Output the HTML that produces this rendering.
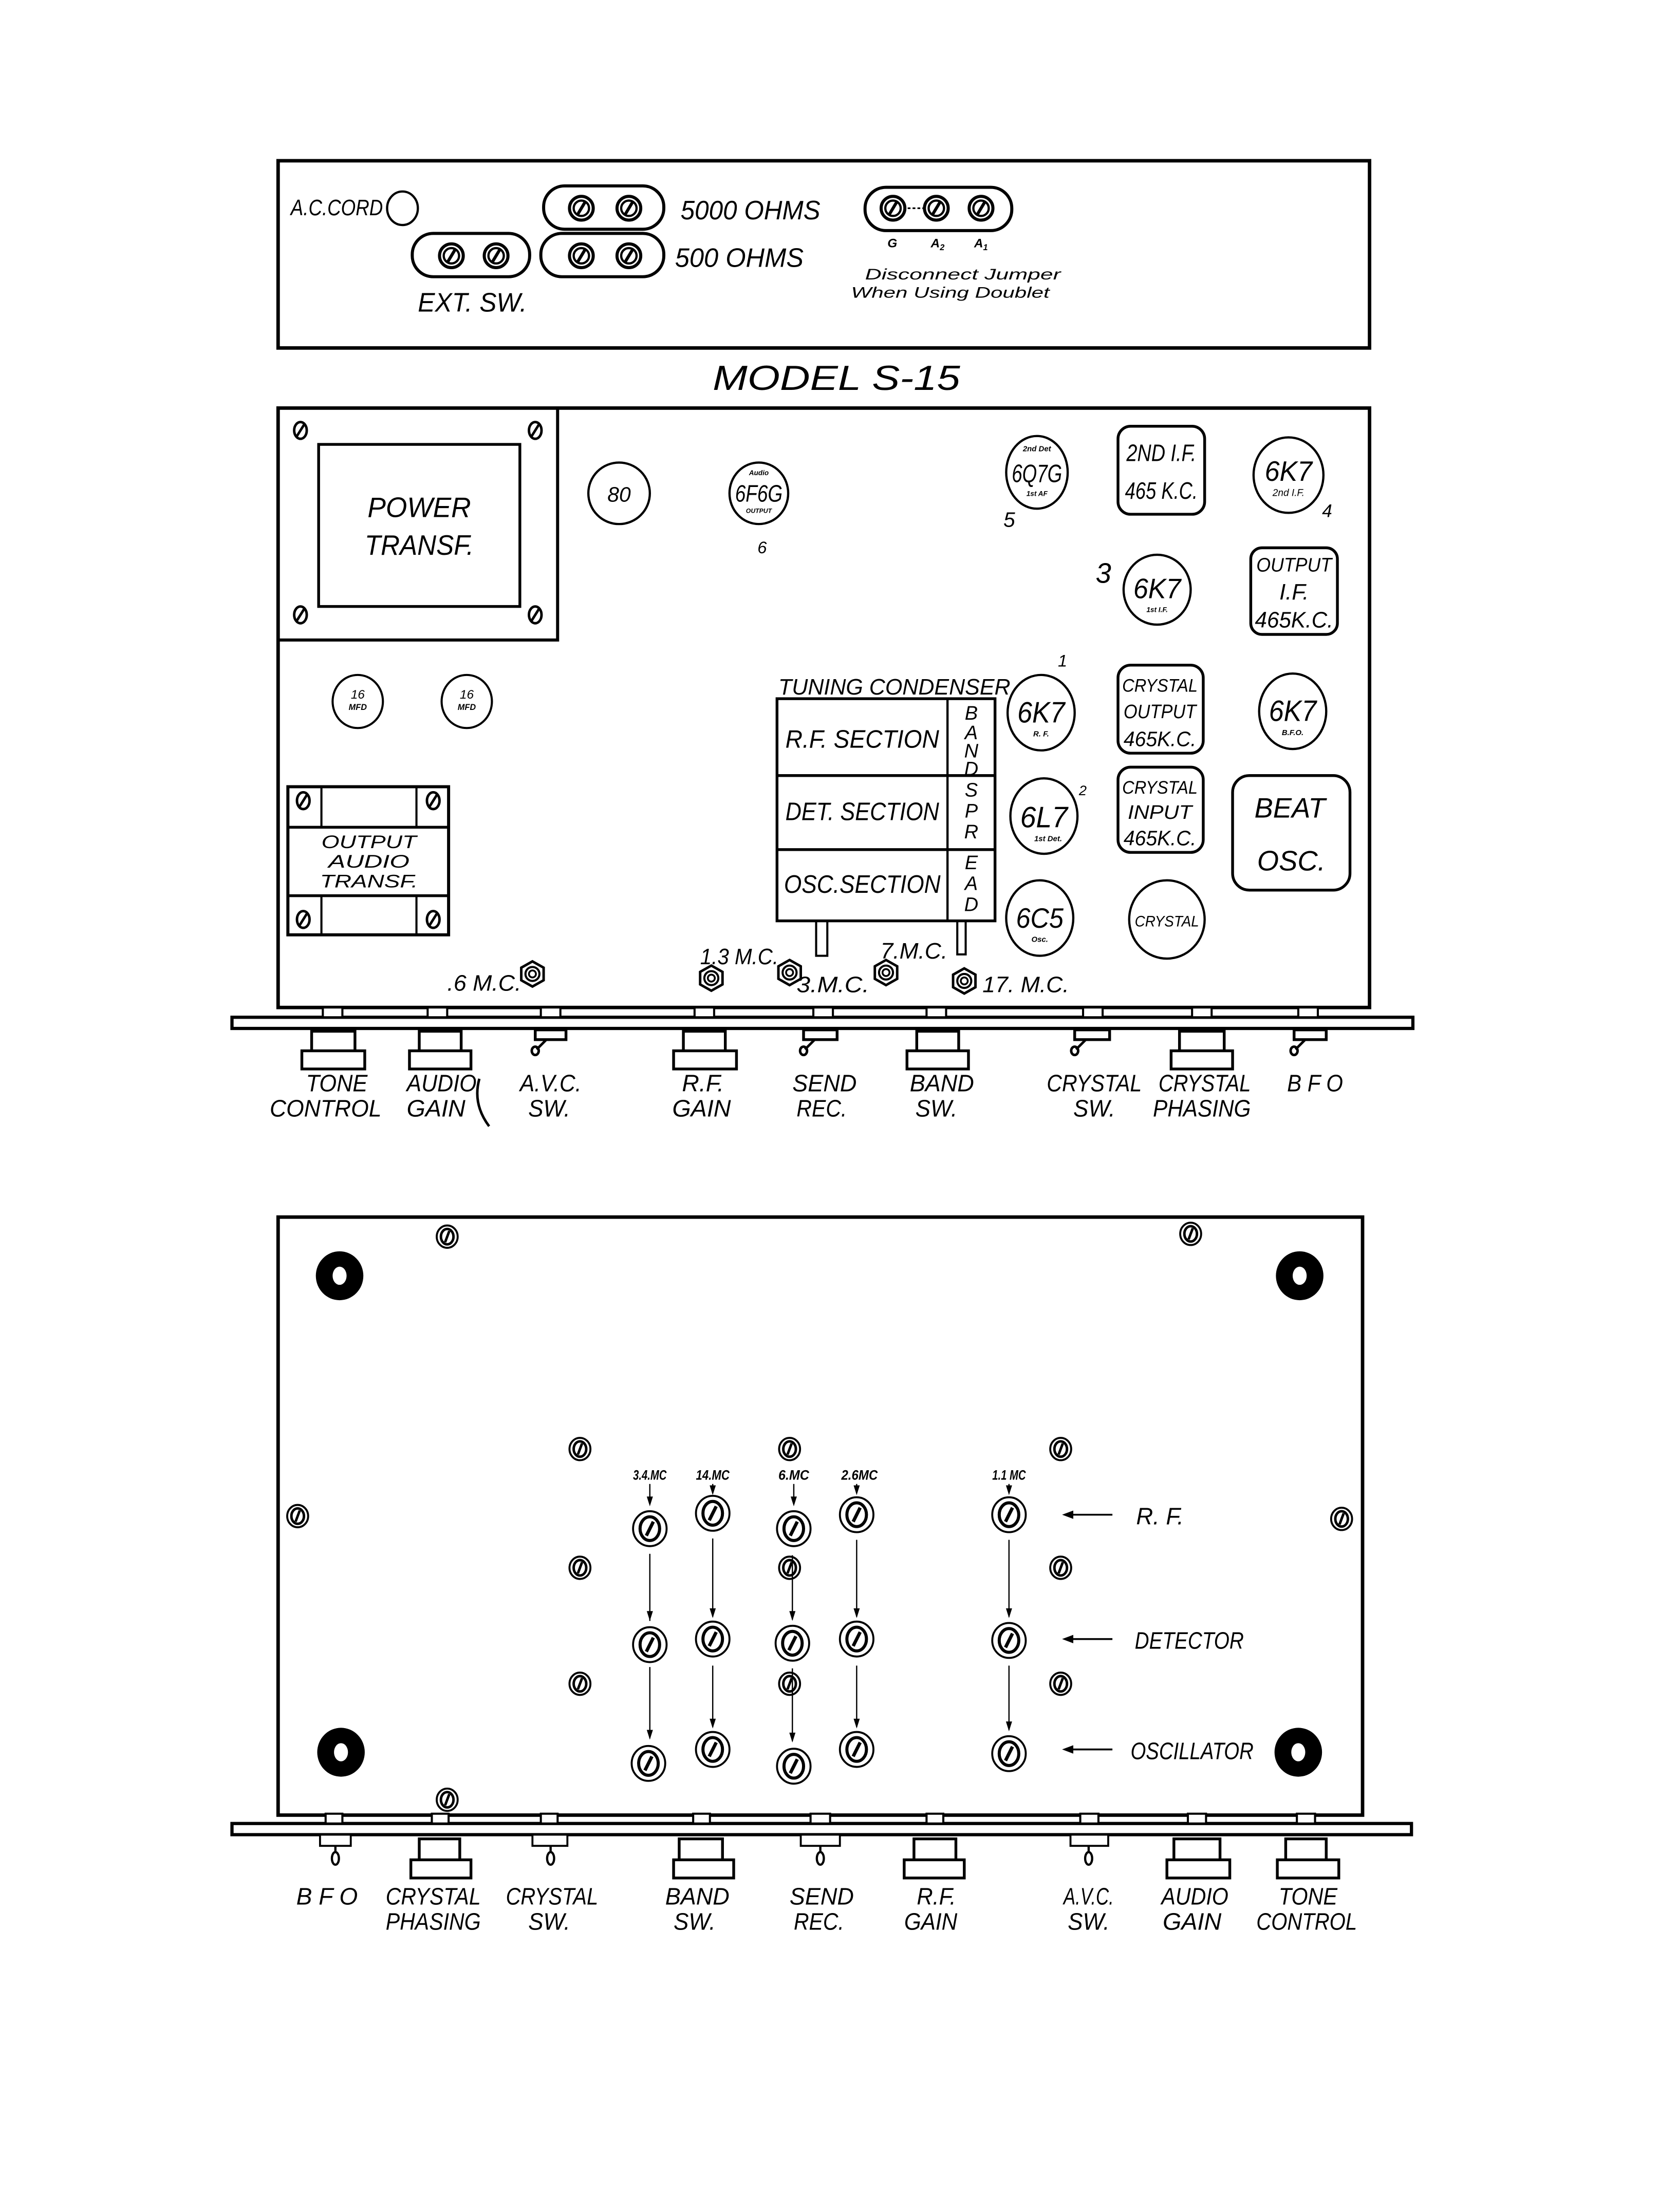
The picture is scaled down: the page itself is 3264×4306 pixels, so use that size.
<!DOCTYPE html>
<html><head><meta charset="utf-8"><style>
html,body{margin:0;padding:0;background:#fff}
svg{display:block}
text{font-family:"Liberation Sans",sans-serif;font-style:italic;fill:#000}
</style></head><body>
<svg width="3264" height="4306" viewBox="0 0 1200 1583" xmlns="http://www.w3.org/2000/svg">
<defs>
<g id="bs"><circle r="8.5" fill="#fff" stroke="#000" stroke-width="2.2"/><circle r="5.5" fill="none" stroke="#000" stroke-width="1.6"/><line x1="-3" y1="5" x2="3" y2="-5" stroke="#000" stroke-width="2.2"/></g>
<g id="ts"><ellipse rx="4.5" ry="6" fill="#fff" stroke="#000" stroke-width="1.8"/><line x1="-2.5" y1="4" x2="2.5" y2="-4" stroke="#000" stroke-width="1.8"/></g>
<g id="tr"><ellipse rx="12" ry="12.5" fill="#fff" stroke="#000" stroke-width="1.4"/><ellipse rx="7" ry="8.5" fill="none" stroke="#000" stroke-width="2.2"/><line x1="-2.5" y1="5" x2="2.5" y2="-5" stroke="#000" stroke-width="2.4"/></g>
<g id="sm"><ellipse rx="7.5" ry="8" fill="#fff" stroke="#000" stroke-width="1.4"/><ellipse rx="4.5" ry="5.5" fill="none" stroke="#000" stroke-width="1.8"/><line x1="-1.5" y1="4" x2="1.5" y2="-4" stroke="#000" stroke-width="1.8"/></g>
<g id="hx"><polygon points="0,-9 8,-4.5 8,4.5 0,9 -8,4.5 -8,-4.5" fill="#fff" stroke="#000" stroke-width="1.8"/><circle r="5" fill="none" stroke="#000" stroke-width="1.5"/><circle r="2.5" fill="none" stroke="#000" stroke-width="1.3"/></g>
<g id="bh"><ellipse rx="17" ry="17.5" fill="#000"/><ellipse rx="5" ry="6.5" fill="#fff"/></g>
<g id="arr"><polygon points="-2.2,-7 2.2,-7 0,0" fill="#000"/></g>
</defs>

<!-- TOP REAR PANEL -->
<rect x="199" y="115" width="781" height="134" fill="none" stroke="#000" stroke-width="2.5"/>
<text x="208" y="154" font-size="16" textLength="66" lengthAdjust="spacingAndGlyphs">A.C.CORD</text>
<ellipse cx="288" cy="149" rx="11" ry="12" fill="none" stroke="#000" stroke-width="1.6"/>
<rect x="389" y="133" width="86" height="31" rx="15" fill="none" stroke="#000" stroke-width="2.2"/>
<rect x="295" y="167" width="84" height="31" rx="15" fill="none" stroke="#000" stroke-width="2.2"/>
<rect x="387" y="167" width="88" height="31" rx="15" fill="none" stroke="#000" stroke-width="2.2"/>
<use href="#bs" x="416" y="149"/><use href="#bs" x="450" y="149"/>
<use href="#bs" x="323" y="183"/><use href="#bs" x="355" y="183"/>
<use href="#bs" x="416" y="183"/><use href="#bs" x="450" y="183"/>
<text x="487" y="157" font-size="19" textLength="100" lengthAdjust="spacingAndGlyphs">5000 OHMS</text>
<text x="483" y="191" font-size="19" textLength="92" lengthAdjust="spacingAndGlyphs">500 OHMS</text>
<rect x="619" y="134" width="105" height="31" rx="15" fill="none" stroke="#000" stroke-width="2.2"/>
<line x1="639" y1="149" x2="670" y2="149" stroke="#000" stroke-width="1.2" stroke-dasharray="2,1.5"/>
<use href="#bs" x="639" y="149"/><use href="#bs" x="670" y="149"/><use href="#bs" x="702" y="149"/>
<text x="635" y="177" font-size="9" font-weight="bold">G</text>
<text x="666" y="177" font-size="9" font-weight="bold">A<tspan font-size="6" dy="2">2</tspan></text>
<text x="697" y="177" font-size="9" font-weight="bold">A<tspan font-size="6" dy="2">1</tspan></text>
<text x="619" y="200" font-size="11" textLength="140" lengthAdjust="spacingAndGlyphs">Disconnect Jumper</text>
<text x="609" y="213" font-size="11" textLength="142" lengthAdjust="spacingAndGlyphs">When Using Doublet</text>
<text x="299" y="223" font-size="19" textLength="78" lengthAdjust="spacingAndGlyphs">EXT. SW.</text>
<text x="510" y="279" font-size="25" textLength="177" lengthAdjust="spacingAndGlyphs">MODEL S-15</text>

<!-- CHASSIS TOP VIEW -->
<rect x="199" y="292" width="781" height="429" fill="none" stroke="#000" stroke-width="2.5"/>
<path d="M199 458 H399 V292" fill="none" stroke="#000" stroke-width="2.2"/>
<rect x="228" y="318" width="144" height="116" fill="none" stroke="#000" stroke-width="2"/>
<use href="#ts" x="215" y="308"/><use href="#ts" x="383" y="308"/><use href="#ts" x="215" y="440"/><use href="#ts" x="383" y="440"/>
<text x="300" y="370" font-size="20" text-anchor="middle" textLength="74" lengthAdjust="spacingAndGlyphs">POWER</text>
<text x="300" y="397" font-size="20" text-anchor="middle" textLength="78" lengthAdjust="spacingAndGlyphs">TRANSF.</text>

<ellipse cx="443" cy="353" rx="22" ry="22" fill="none" stroke="#000" stroke-width="1.6"/>
<text x="443" y="359" font-size="15" text-anchor="middle">80</text>
<ellipse cx="543" cy="353" rx="21" ry="22" fill="none" stroke="#000" stroke-width="1.6"/>
<text x="543" y="340" font-size="5" text-anchor="middle" font-weight="bold">Audio</text>
<text x="543" y="359" font-size="17" text-anchor="middle" textLength="34" lengthAdjust="spacingAndGlyphs">6F6G</text>
<text x="543" y="367" font-size="4.5" text-anchor="middle" font-weight="bold">OUTPUT</text>
<text x="542" y="396" font-size="12">6</text>
<ellipse cx="742" cy="338" rx="22" ry="26" fill="none" stroke="#000" stroke-width="1.6"/>
<text x="742" y="323" font-size="5.5" text-anchor="middle" font-weight="bold">2nd Det</text>
<text x="742" y="345" font-size="18" text-anchor="middle" textLength="36" lengthAdjust="spacingAndGlyphs">6Q7G</text>
<text x="742" y="355" font-size="5" text-anchor="middle" font-weight="bold">1st AF</text>
<text x="718" y="377" font-size="15" font-style="normal">5</text>
<rect x="800" y="305" width="62" height="63" rx="9" fill="none" stroke="#000" stroke-width="2"/>
<text x="831" y="330" font-size="17" text-anchor="middle" textLength="50" lengthAdjust="spacingAndGlyphs">2ND I.F.</text>
<text x="831" y="357" font-size="17" text-anchor="middle" textLength="52" lengthAdjust="spacingAndGlyphs">465 K.C.</text>
<ellipse cx="922" cy="340" rx="25" ry="27" fill="none" stroke="#000" stroke-width="1.6"/>
<text x="922" y="344" font-size="20" text-anchor="middle" textLength="34" lengthAdjust="spacingAndGlyphs">6K7</text>
<text x="922" y="355" font-size="7" text-anchor="middle">2nd I.F.</text>
<text x="946" y="370" font-size="13">4</text>
<text x="784" y="417" font-size="20" font-style="normal">3</text>
<ellipse cx="828" cy="422" rx="24" ry="25" fill="none" stroke="#000" stroke-width="1.6"/>
<text x="828" y="428" font-size="20" text-anchor="middle" textLength="34" lengthAdjust="spacingAndGlyphs">6K7</text>
<text x="828" y="438" font-size="5" text-anchor="middle" font-weight="bold">1st I.F.</text>
<rect x="895" y="392" width="62" height="62" rx="8" fill="none" stroke="#000" stroke-width="2"/>
<text x="926" y="409" font-size="14" text-anchor="middle" textLength="54" lengthAdjust="spacingAndGlyphs">OUTPUT</text>
<text x="926" y="429" font-size="16" text-anchor="middle">I.F.</text>
<text x="926" y="449" font-size="16" text-anchor="middle" textLength="56" lengthAdjust="spacingAndGlyphs">465K.C.</text>

<ellipse cx="256" cy="502" rx="18" ry="19" fill="none" stroke="#000" stroke-width="1.5"/>
<text x="256" y="500" font-size="9" text-anchor="middle">16</text><text x="256" y="508" font-size="6" text-anchor="middle" font-weight="bold">MFD</text>
<ellipse cx="334" cy="502" rx="18" ry="19" fill="none" stroke="#000" stroke-width="1.5"/>
<text x="334" y="500" font-size="9" text-anchor="middle">16</text><text x="334" y="508" font-size="6" text-anchor="middle" font-weight="bold">MFD</text>

<rect x="206" y="563" width="115" height="106" fill="none" stroke="#000" stroke-width="2.2"/>
<line x1="206" y1="592" x2="321" y2="592" stroke="#000" stroke-width="2"/>
<line x1="206" y1="641" x2="321" y2="641" stroke="#000" stroke-width="2"/>
<line x1="230" y1="563" x2="230" y2="592" stroke="#000" stroke-width="1.5"/><line x1="298" y1="563" x2="298" y2="592" stroke="#000" stroke-width="1.5"/>
<line x1="230" y1="641" x2="230" y2="669" stroke="#000" stroke-width="1.5"/><line x1="298" y1="641" x2="298" y2="669" stroke="#000" stroke-width="1.5"/>
<use href="#ts" x="217" y="573"/><use href="#ts" x="310" y="573"/><use href="#ts" x="217" y="658"/><use href="#ts" x="310" y="658"/>
<text x="264" y="607" font-size="13" text-anchor="middle" textLength="68" lengthAdjust="spacingAndGlyphs">OUTPUT</text>
<text x="264" y="621" font-size="13" text-anchor="middle" textLength="58" lengthAdjust="spacingAndGlyphs">AUDIO</text>
<text x="264" y="635" font-size="13" text-anchor="middle" textLength="70" lengthAdjust="spacingAndGlyphs">TRANSF.</text>

<text x="557" y="497" font-size="16" textLength="166" lengthAdjust="spacingAndGlyphs">TUNING CONDENSER</text>
<rect x="556" y="500" width="156" height="159" fill="none" stroke="#000" stroke-width="2"/>
<line x1="556" y1="555" x2="712" y2="555" stroke="#000" stroke-width="2"/>
<line x1="556" y1="608" x2="712" y2="608" stroke="#000" stroke-width="2"/>
<line x1="678" y1="500" x2="678" y2="659" stroke="#000" stroke-width="1.6"/>
<text x="617" y="535" font-size="18" text-anchor="middle" textLength="110" lengthAdjust="spacingAndGlyphs">R.F. SECTION</text>
<text x="617" y="587" font-size="18" text-anchor="middle" textLength="110" lengthAdjust="spacingAndGlyphs">DET. SECTION</text>
<text x="617" y="639" font-size="18" text-anchor="middle" textLength="112" lengthAdjust="spacingAndGlyphs">OSC.SECTION</text>
<g font-size="14" text-anchor="middle">
<text x="695" y="515">B</text><text x="695" y="529">A</text><text x="695" y="542">N</text><text x="695" y="555">D</text>
<text x="695" y="570">S</text><text x="695" y="585">P</text><text x="695" y="600">R</text>
<text x="695" y="622">E</text><text x="695" y="637">A</text><text x="695" y="652">D</text></g>
<rect x="584" y="659" width="8" height="25" fill="none" stroke="#000" stroke-width="1.5"/>
<rect x="685" y="659" width="6" height="24" fill="none" stroke="#000" stroke-width="1.5"/>

<text x="757" y="477" font-size="12">1</text>
<ellipse cx="745" cy="510" rx="24" ry="27" fill="none" stroke="#000" stroke-width="1.6"/>
<text x="745" y="517" font-size="21" text-anchor="middle" textLength="34" lengthAdjust="spacingAndGlyphs">6K7</text>
<text x="745" y="527" font-size="5.5" text-anchor="middle" font-weight="bold">R. F.</text>
<text x="772" y="569" font-size="10">2</text>
<ellipse cx="747" cy="584" rx="24" ry="27" fill="none" stroke="#000" stroke-width="1.6"/>
<text x="747" y="592" font-size="21" text-anchor="middle" textLength="34" lengthAdjust="spacingAndGlyphs">6L7</text>
<text x="750" y="602" font-size="5.5" text-anchor="middle" font-weight="bold">1st Det.</text>
<ellipse cx="744" cy="657" rx="24" ry="27" fill="none" stroke="#000" stroke-width="1.6"/>
<text x="744" y="664" font-size="20" text-anchor="middle" textLength="34" lengthAdjust="spacingAndGlyphs">6C5</text>
<text x="744" y="674" font-size="5.5" text-anchor="middle" font-weight="bold">Osc.</text>
<rect x="800" y="476" width="61" height="63" rx="9" fill="none" stroke="#000" stroke-width="2"/>
<text x="830" y="495" font-size="13" text-anchor="middle" textLength="54" lengthAdjust="spacingAndGlyphs">CRYSTAL</text>
<text x="830" y="514" font-size="14" text-anchor="middle" textLength="52" lengthAdjust="spacingAndGlyphs">OUTPUT</text>
<text x="830" y="534" font-size="15" text-anchor="middle" textLength="52" lengthAdjust="spacingAndGlyphs">465K.C.</text>
<rect x="800" y="549" width="61" height="61" rx="9" fill="none" stroke="#000" stroke-width="2"/>
<text x="830" y="568" font-size="13" text-anchor="middle" textLength="54" lengthAdjust="spacingAndGlyphs">CRYSTAL</text>
<text x="830" y="586" font-size="14" text-anchor="middle" textLength="46" lengthAdjust="spacingAndGlyphs">INPUT</text>
<text x="830" y="605" font-size="15" text-anchor="middle" textLength="52" lengthAdjust="spacingAndGlyphs">465K.C.</text>
<ellipse cx="925" cy="509" rx="24" ry="27" fill="none" stroke="#000" stroke-width="1.6"/>
<text x="925" y="516" font-size="21" text-anchor="middle" textLength="34" lengthAdjust="spacingAndGlyphs">6K7</text>
<text x="925" y="526" font-size="5.5" text-anchor="middle" font-weight="bold">B.F.O.</text>
<rect x="882" y="555" width="84" height="82" rx="12" fill="none" stroke="#000" stroke-width="2"/>
<text x="923" y="585" font-size="20" text-anchor="middle">BEAT</text>
<text x="924" y="623" font-size="20" text-anchor="middle">OSC.</text>
<ellipse cx="835" cy="658" rx="27" ry="28" fill="none" stroke="#000" stroke-width="1.6"/>
<text x="835" y="663" font-size="11" text-anchor="middle" textLength="46" lengthAdjust="spacingAndGlyphs">CRYSTAL</text>

<use href="#hx" x="381" y="697"/><text x="320" y="709" font-size="16" textLength="53" lengthAdjust="spacingAndGlyphs">.6 M.C.</text>
<use href="#hx" x="509" y="700"/><text x="501" y="690" font-size="16" textLength="56" lengthAdjust="spacingAndGlyphs">1.3 M.C.</text>
<use href="#hx" x="565" y="696"/><text x="570" y="710" font-size="16" textLength="52" lengthAdjust="spacingAndGlyphs">3.M.C.</text>
<use href="#hx" x="634" y="696"/><text x="630" y="686" font-size="16" textLength="48" lengthAdjust="spacingAndGlyphs">7.M.C.</text>
<use href="#hx" x="690" y="702"/><text x="703" y="710" font-size="16" textLength="62" lengthAdjust="spacingAndGlyphs">17. M.C.</text>

<!-- front panel 1 -->
<rect x="166" y="728" width="845" height="8" fill="#fff" stroke="#000" stroke-width="2.3"/>
<g fill="#fff" stroke="#000" stroke-width="1.5">
<rect x="231" y="721" width="14" height="7"/><rect x="306" y="721" width="14" height="7"/><rect x="387" y="721" width="14" height="7"/><rect x="497" y="721" width="14" height="7"/><rect x="582" y="721" width="14" height="7"/><rect x="663" y="721" width="14" height="7"/><rect x="775" y="721" width="14" height="7"/><rect x="853" y="721" width="14" height="7"/><rect x="929" y="721" width="14" height="7"/>
</g>
<g fill="#fff" stroke="#000" stroke-width="2">
<rect x="223" y="738" width="31" height="15"/><rect x="216" y="752" width="45" height="13"/>
<rect x="300" y="738" width="30" height="15"/><rect x="293" y="752" width="44" height="13"/>
<rect x="489" y="738" width="30" height="15"/><rect x="482" y="752" width="45" height="13"/>
<rect x="656" y="738" width="30" height="15"/><rect x="649" y="752" width="44" height="13"/>
<rect x="844" y="738" width="32" height="15"/><rect x="838" y="752" width="44" height="13"/>
<rect x="383" y="737" width="22" height="7"/><rect x="575" y="737" width="24" height="7"/><rect x="769" y="737" width="25" height="7"/><rect x="926" y="737" width="23" height="7"/>
</g>
<g fill="none" stroke="#000" stroke-width="1.8">
<path d="M391 744 L384 751"/><ellipse cx="383" cy="752" rx="2.5" ry="3"/>
<path d="M583 744 L576 751"/><ellipse cx="575" cy="752" rx="2.5" ry="3"/>
<path d="M777 744 L770 751"/><ellipse cx="769" cy="752" rx="2.5" ry="3"/>
<path d="M934 744 L927 751"/><ellipse cx="926" cy="752" rx="2.5" ry="3"/>
<path d="M343 772 Q338 790 350 806"/>
</g>
<g font-size="17" text-anchor="middle">
<text x="241" y="781" textLength="44" lengthAdjust="spacingAndGlyphs">TONE</text><text x="233" y="799" textLength="80" lengthAdjust="spacingAndGlyphs">CONTROL</text>
<text x="316" y="781" textLength="50" lengthAdjust="spacingAndGlyphs">AUDIO</text><text x="312" y="799" textLength="42" lengthAdjust="spacingAndGlyphs">GAIN</text>
<text x="394" y="781" textLength="44" lengthAdjust="spacingAndGlyphs">A.V.C.</text><text x="393" y="799" textLength="30" lengthAdjust="spacingAndGlyphs">SW.</text>
<text x="503" y="781" textLength="30" lengthAdjust="spacingAndGlyphs">R.F.</text><text x="502" y="799" textLength="42" lengthAdjust="spacingAndGlyphs">GAIN</text>
<text x="590" y="781" textLength="46" lengthAdjust="spacingAndGlyphs">SEND</text><text x="588" y="799" textLength="36" lengthAdjust="spacingAndGlyphs">REC.</text>
<text x="674" y="781" textLength="46" lengthAdjust="spacingAndGlyphs">BAND</text><text x="670" y="799" textLength="30" lengthAdjust="spacingAndGlyphs">SW.</text>
<text x="783" y="781" textLength="68" lengthAdjust="spacingAndGlyphs">CRYSTAL</text><text x="783" y="799" textLength="30" lengthAdjust="spacingAndGlyphs">SW.</text>
<text x="862" y="781" textLength="66" lengthAdjust="spacingAndGlyphs">CRYSTAL</text><text x="860" y="799" textLength="70" lengthAdjust="spacingAndGlyphs">PHASING</text>
<text x="941" y="781" textLength="40" lengthAdjust="spacingAndGlyphs">B F O</text>
</g>

<!-- CHASSIS BOTTOM VIEW -->
<rect x="199" y="871" width="776" height="428" fill="none" stroke="#000" stroke-width="2.5"/>
<use href="#bh" x="243" y="913"/><use href="#bh" x="930" y="913"/><use href="#bh" x="244" y="1254"/><use href="#bh" x="929" y="1254"/>
<use href="#sm" x="320" y="885"/><use href="#sm" x="852" y="883"/><use href="#sm" x="320" y="1288"/><use href="#sm" x="213" y="1085"/><use href="#sm" x="960" y="1087"/>
<use href="#sm" x="415" y="1037"/><use href="#sm" x="415" y="1122"/><use href="#sm" x="415" y="1205"/>
<use href="#sm" x="565" y="1037"/><use href="#sm" x="565" y="1122"/><use href="#sm" x="565" y="1205"/>
<use href="#sm" x="759" y="1037"/><use href="#sm" x="759" y="1122"/><use href="#sm" x="759" y="1205"/>

<g stroke="#000" stroke-width="0.9">
<line x1="465" y1="1062" x2="465" y2="1076"/><line x1="510" y1="1062" x2="510" y2="1068"/><line x1="568" y1="1062" x2="568" y2="1076"/><line x1="613" y1="1062" x2="613" y2="1068"/><line x1="722" y1="1062" x2="722" y2="1068"/>
<line x1="465" y1="1112" x2="465" y2="1160"/><line x1="510" y1="1101" x2="510" y2="1157"/><line x1="567" y1="1113" x2="567" y2="1159"/><line x1="613" y1="1102" x2="613" y2="1157"/><line x1="722" y1="1102" x2="722" y2="1157"/>
<line x1="465" y1="1193" x2="465" y2="1244"/><line x1="510" y1="1192" x2="510" y2="1236"/><line x1="567" y1="1194" x2="567" y2="1246"/><line x1="613" y1="1192" x2="613" y2="1236"/><line x1="722" y1="1192" x2="722" y2="1238"/>
</g>
<use href="#arr" x="465" y="1078"/><use href="#arr" x="510" y="1070"/><use href="#arr" x="568" y="1078"/><use href="#arr" x="613" y="1070"/><use href="#arr" x="722" y="1070"/>
<use href="#arr" x="465" y="1160"/><use href="#arr" x="510" y="1158"/><use href="#arr" x="567" y="1160"/><use href="#arr" x="613" y="1158"/><use href="#arr" x="722" y="1158"/>
<use href="#arr" x="465" y="1245"/><use href="#arr" x="510" y="1237"/><use href="#arr" x="567" y="1247"/><use href="#arr" x="613" y="1237"/><use href="#arr" x="722" y="1239"/>
<use href="#tr" x="465" y="1094"/><use href="#tr" x="510" y="1083"/><use href="#tr" x="568" y="1094"/><use href="#tr" x="613" y="1084"/><use href="#tr" x="722" y="1084"/>
<use href="#tr" x="465" y="1177"/><use href="#tr" x="510" y="1173"/><use href="#tr" x="567" y="1176"/><use href="#tr" x="613" y="1173"/><use href="#tr" x="722" y="1174"/>
<use href="#tr" x="464" y="1262"/><use href="#tr" x="510" y="1252"/><use href="#tr" x="568" y="1264"/><use href="#tr" x="613" y="1252"/><use href="#tr" x="722" y="1255"/>
<g font-size="10" text-anchor="middle" font-weight="bold">
<text x="465" y="1059" textLength="24" lengthAdjust="spacingAndGlyphs">3.4.MC</text>
<text x="510" y="1059" textLength="24" lengthAdjust="spacingAndGlyphs">14.MC</text>
<text x="568" y="1059" textLength="22" lengthAdjust="spacingAndGlyphs">6.MC</text>
<text x="615" y="1059" textLength="26" lengthAdjust="spacingAndGlyphs">2.6MC</text>
<text x="722" y="1059" textLength="24" lengthAdjust="spacingAndGlyphs">1.1 MC</text>
</g>
<g stroke="#000" stroke-width="1.3"><line x1="764" y1="1084" x2="796" y2="1084"/><line x1="764" y1="1173" x2="796" y2="1173"/><line x1="764" y1="1252" x2="796" y2="1252"/></g>
<polygon points="760,1084 768,1081 768,1087" fill="#000"/><polygon points="760,1173 768,1170 768,1176" fill="#000"/><polygon points="760,1252 768,1249 768,1255" fill="#000"/>
<text x="813" y="1091" font-size="17" textLength="34" lengthAdjust="spacingAndGlyphs">R. F.</text>
<text x="812" y="1180" font-size="17" textLength="78" lengthAdjust="spacingAndGlyphs">DETECTOR</text>
<text x="809" y="1259" font-size="17" textLength="88" lengthAdjust="spacingAndGlyphs">OSCILLATOR</text>

<!-- front panel 2 -->
<rect x="166" y="1305" width="844" height="8" fill="#fff" stroke="#000" stroke-width="2.3"/>
<g fill="#fff" stroke="#000" stroke-width="1.5">
<rect x="233" y="1298" width="12" height="7"/><rect x="309" y="1298" width="12" height="7"/><rect x="387" y="1298" width="12" height="7"/><rect x="496" y="1298" width="12" height="7"/><rect x="580" y="1298" width="14" height="7"/><rect x="663" y="1298" width="12" height="7"/><rect x="773" y="1298" width="13" height="7"/><rect x="850" y="1298" width="13" height="7"/><rect x="928" y="1298" width="13" height="7"/>
</g>
<g fill="#fff" stroke="#000" stroke-width="2">
<rect x="300" y="1316" width="29" height="16"/><rect x="294" y="1331" width="43" height="13"/>
<rect x="486" y="1316" width="31" height="16"/><rect x="482" y="1331" width="43" height="13"/>
<rect x="654" y="1316" width="30" height="16"/><rect x="647" y="1331" width="43" height="13"/>
<rect x="840" y="1316" width="33" height="16"/><rect x="835" y="1331" width="45" height="13"/>
<rect x="920" y="1316" width="29" height="16"/><rect x="914" y="1331" width="44" height="13"/>
</g>
<g fill="#fff" stroke="#000" stroke-width="1.4">
<rect x="229" y="1313" width="22" height="8"/><rect x="381" y="1313" width="25" height="8"/><rect x="573" y="1313" width="28" height="8"/><rect x="766" y="1313" width="27" height="8"/>
</g>
<g fill="none" stroke="#000" stroke-width="1.6">
<line x1="240" y1="1321" x2="240" y2="1326"/><ellipse cx="240" cy="1330" rx="2.5" ry="4.5"/>
<line x1="394" y1="1321" x2="394" y2="1326"/><ellipse cx="394" cy="1330" rx="2.5" ry="4.5"/>
<line x1="587" y1="1321" x2="587" y2="1326"/><ellipse cx="587" cy="1330" rx="2.5" ry="4.5"/>
<line x1="779" y1="1321" x2="779" y2="1326"/><ellipse cx="779" cy="1330" rx="2.5" ry="4.5"/>
</g>
<g font-size="17" text-anchor="middle">
<text x="234" y="1363" textLength="44" lengthAdjust="spacingAndGlyphs">B F O</text>
<text x="310" y="1363" textLength="68" lengthAdjust="spacingAndGlyphs">CRYSTAL</text><text x="310" y="1381" textLength="68" lengthAdjust="spacingAndGlyphs">PHASING</text>
<text x="395" y="1363" textLength="66" lengthAdjust="spacingAndGlyphs">CRYSTAL</text><text x="393" y="1381" textLength="30" lengthAdjust="spacingAndGlyphs">SW.</text>
<text x="499" y="1363" textLength="46" lengthAdjust="spacingAndGlyphs">BAND</text><text x="497" y="1381" textLength="30" lengthAdjust="spacingAndGlyphs">SW.</text>
<text x="588" y="1363" textLength="46" lengthAdjust="spacingAndGlyphs">SEND</text><text x="586" y="1381" textLength="36" lengthAdjust="spacingAndGlyphs">REC.</text>
<text x="670" y="1363" textLength="28" lengthAdjust="spacingAndGlyphs">R.F.</text><text x="666" y="1381" textLength="38" lengthAdjust="spacingAndGlyphs">GAIN</text>
<text x="779" y="1363" textLength="36" lengthAdjust="spacingAndGlyphs">A.V.C.</text><text x="779" y="1381" textLength="30" lengthAdjust="spacingAndGlyphs">SW.</text>
<text x="855" y="1363" textLength="48" lengthAdjust="spacingAndGlyphs">AUDIO</text><text x="853" y="1381" textLength="42" lengthAdjust="spacingAndGlyphs">GAIN</text>
<text x="936" y="1363" textLength="42" lengthAdjust="spacingAndGlyphs">TONE</text><text x="935" y="1381" textLength="72" lengthAdjust="spacingAndGlyphs">CONTROL</text>
</g>
</svg>
</body></html>
